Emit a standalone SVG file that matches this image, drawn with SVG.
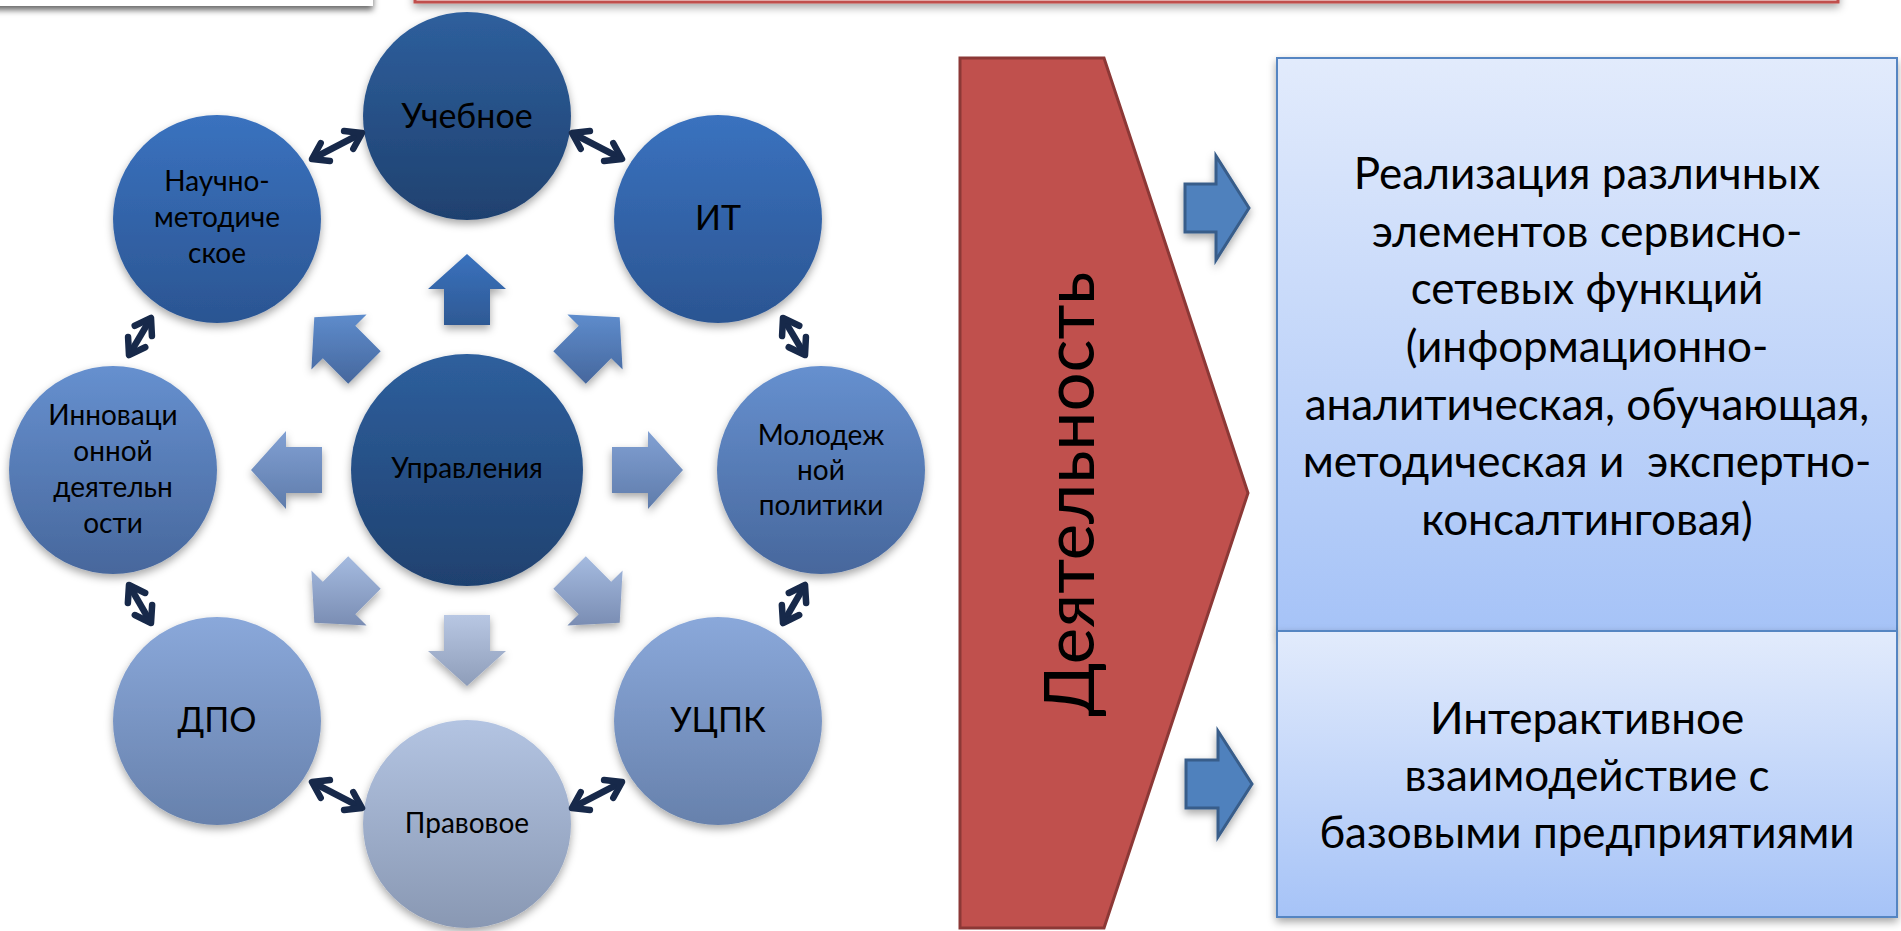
<svg xmlns="http://www.w3.org/2000/svg" width="1901" height="931" viewBox="0 0 1901 931">
<style>
.t{font-family:Lato,"Liberation Sans",sans-serif;fill:#000;text-anchor:middle}
.s{font-size:28px}
.b{font-size:34px}
.rt{font-size:44px}
.dh{stroke:#17294A;stroke-width:6.5;fill:none;marker-start:url(#ah);marker-end:url(#ah)}
.box{stroke:#5585C2;stroke-width:2;fill:url(#bx)}
.ba{fill:#4F81BD;stroke:#385D8A;stroke-width:3}
</style>
<defs>
<filter id="sh" x="-20%" y="-20%" width="140%" height="150%">
<feDropShadow dx="0" dy="4" stdDeviation="4" flood-color="#000" flood-opacity="0.35"/>
</filter>
<filter id="sh2" x="-5%" y="-50%" width="110%" height="300%">
<feDropShadow dx="0" dy="4" stdDeviation="3" flood-color="#000" flood-opacity="0.6"/>
</filter>
<linearGradient id="g1" x1="0" y1="0" x2="0" y2="1"><stop offset="0" stop-color="#2E5F9D"/><stop offset="1" stop-color="#1F416F"/></linearGradient>
<linearGradient id="g2" x1="0" y1="0" x2="0" y2="1"><stop offset="0" stop-color="#3A72BF"/><stop offset="1" stop-color="#2B5592"/></linearGradient>
<linearGradient id="g3" x1="0" y1="0" x2="0" y2="1"><stop offset="0" stop-color="#6690CF"/><stop offset="1" stop-color="#47679C"/></linearGradient>
<linearGradient id="g4" x1="0" y1="0" x2="0" y2="1"><stop offset="0" stop-color="#8AA8DA"/><stop offset="1" stop-color="#6781AC"/></linearGradient>
<linearGradient id="g5" x1="0" y1="0" x2="0" y2="1"><stop offset="0" stop-color="#B3C4E2"/><stop offset="1" stop-color="#8998B3"/></linearGradient>
<linearGradient id="a0" x1="0" y1="0" x2="0" y2="1"><stop offset="0" stop-color="#3A72BE"/><stop offset="1" stop-color="#2E5994"/></linearGradient>
<linearGradient id="a1" x1="0" y1="0" x2="0" y2="1"><stop offset="0" stop-color="#5E8CCC"/><stop offset="1" stop-color="#46679D"/></linearGradient>
<linearGradient id="a2" x1="0" y1="0" x2="0" y2="1"><stop offset="0" stop-color="#81A0D3"/><stop offset="1" stop-color="#5F7CAB"/></linearGradient>
<linearGradient id="a3" x1="0" y1="0" x2="0" y2="1"><stop offset="0" stop-color="#A5BBE0"/><stop offset="1" stop-color="#7A8DB3"/></linearGradient>
<linearGradient id="a4" x1="0" y1="0" x2="0" y2="1"><stop offset="0" stop-color="#B8C7E3"/><stop offset="1" stop-color="#8E9DB9"/></linearGradient>
<linearGradient id="bx" x1="0" y1="0" x2="0" y2="1"><stop offset="0" stop-color="#E2EBFC"/><stop offset="1" stop-color="#A6C3F7"/></linearGradient>
<marker id="ah" viewBox="-18 -14 22 28" refX="0" refY="0" markerWidth="22" markerHeight="28" markerUnits="userSpaceOnUse" orient="auto-start-reverse" overflow="visible">
<path d="M-15,-10 L0,0 L-15,10" fill="none" stroke="#17294A" stroke-width="6.5" stroke-linecap="round" stroke-linejoin="round"/>
</marker>
</defs>
<rect width="1901" height="931" fill="#fff"/>

<!-- top partial shapes -->
<rect id="topLeftBox" x="-20" y="-60" width="393" height="66" fill="#fff" filter="url(#sh2)"/>
<rect id="topRedBox" x="415" y="-60" width="1423" height="62" fill="#fff" stroke="#C0504D" stroke-width="3" filter="url(#sh)"/>

<!-- radial block arrows -->
<g id="blockArrows" filter="url(#sh)">
<polygon points="467,254 506,289 490,289 490,325 444,325 444,289 428,289" fill="url(#a0)"/>
<polygon points="619.7,317.3 622.6,369.6 611.2,358.3 585.8,383.7 553.3,351.2 578.7,325.8 567.4,314.4" fill="url(#a1)"/>
<polygon points="314.3,317.3 366.6,314.4 355.3,325.8 380.7,351.2 348.2,383.7 322.8,358.3 311.4,369.6" fill="url(#a1)"/>
<polygon points="683,470 648,509 648,493 612,493 612,447 648,447 648,431" fill="url(#a2)"/>
<polygon points="251,470 286,431 286,447 322,447 322,493 286,493 286,509" fill="url(#a2)"/>
<polygon points="619.7,622.7 567.4,625.6 578.7,614.2 553.3,588.8 585.8,556.3 611.2,581.7 622.6,570.4" fill="url(#a3)"/>
<polygon points="314.3,622.7 311.4,570.4 322.8,581.7 348.2,556.3 380.7,588.8 355.3,614.2 366.6,625.6" fill="url(#a3)"/>
<polygon points="467,686 428,651 444,651 444,615 490,615 490,651 506,651" fill="url(#a4)"/>
</g>

<!-- circle nodes -->
<g id="node-upravleniya">
<circle cx="467" cy="470" r="116" fill="url(#g1)" filter="url(#sh)"/>
<text class="t s" x="467" y="478">Управления</text>
</g>
<g id="node-uchebnoe">
<circle cx="467" cy="116" r="104" fill="url(#g1)" filter="url(#sh)"/>
<text class="t b" x="467" y="128">Учебное</text>
</g>
<g id="node-it">
<circle cx="718" cy="219" r="104" fill="url(#g2)" filter="url(#sh)"/>
<text class="t b" x="718" y="230">ИТ</text>
</g>
<g id="node-nauchno">
<circle cx="217" cy="219" r="104" fill="url(#g2)" filter="url(#sh)"/>
<text class="t s" x="217" y="191">Научно-</text>
<text class="t s" x="217" y="227">методиче</text>
<text class="t s" x="217" y="263">ское</text>
</g>
<g id="node-molodezh">
<circle cx="821" cy="470" r="104" fill="url(#g3)" filter="url(#sh)"/>
<text class="t s" x="821" y="445">Молодеж</text>
<text class="t s" x="821" y="480">ной</text>
<text class="t s" x="821" y="515">политики</text>
</g>
<g id="node-innovac">
<circle cx="113" cy="470" r="104" fill="url(#g3)" filter="url(#sh)"/>
<text class="t s" x="113" y="425">Инноваци</text>
<text class="t s" x="113" y="461">онной</text>
<text class="t s" x="113" y="497">деятельн</text>
<text class="t s" x="113" y="533">ости</text>
</g>
<g id="node-dpo">
<circle cx="217" cy="721" r="104" fill="url(#g4)" filter="url(#sh)"/>
<text class="t b" x="217" y="732">ДПО</text>
</g>
<g id="node-ucpk">
<circle cx="718" cy="721" r="104" fill="url(#g4)" filter="url(#sh)"/>
<text class="t b" x="718" y="732">УЦПК</text>
</g>
<g id="node-pravovoe">
<circle cx="467" cy="824" r="104" fill="url(#g5)" filter="url(#sh)"/>
<text class="t s" x="467" y="833">Правовое</text>
</g>

<!-- double arrows between ring nodes -->
<g id="connectors">
<line class="dh" x1="572" y1="133" x2="622" y2="159"/>
<line class="dh" x1="783" y1="318" x2="805" y2="355"/>
<line class="dh" x1="805" y1="585" x2="783" y2="623"/>
<line class="dh" x1="622" y1="782" x2="572" y2="808"/>
<line class="dh" x1="312" y1="782" x2="362" y2="808"/>
<line class="dh" x1="129" y1="585" x2="151" y2="623"/>
<line class="dh" x1="151" y1="318" x2="129" y2="355"/>
<line class="dh" x1="362" y1="133" x2="312" y2="159"/>
</g>

<!-- right part -->
<g id="node-deyatelnost">
<polygon points="960,58 1104,58 1248,493 1104,928 960,928" fill="#C0504D" stroke="#8C3836" stroke-width="3"/>
<text class="t" style="font-size:69px" transform="translate(1094,494) rotate(-90)">Деятельность</text>
</g>
<g id="arrow-top">
<path class="ba" d="M1185,184 H1216 V156 L1249,208 L1216,260 V232 H1185 Z" filter="url(#sh)"/>
</g>
<g id="arrow-bottom">
<path class="ba" d="M1186,760 H1218 V731 L1252,784 L1218,837 V808 H1186 Z" filter="url(#sh)"/>
</g>
<g id="node-realizaciya">
<rect class="box" x="1277" y="58" width="620" height="573" filter="url(#sh)"/>
<text class="t rt" x="1587" y="189">Реализация различных</text>
<text class="t rt" x="1587" y="247">элементов сервисно-</text>
<text class="t rt" x="1587" y="304">сетевых функций</text>
<text class="t rt" x="1587" y="362">(информационно-</text>
<text class="t rt" x="1587" y="420">аналитическая, обучающая,</text>
<text class="t rt" x="1587" y="477" xml:space="preserve">методическая и  экспертно-</text>
<text class="t rt" x="1587" y="535">консалтинговая)</text>
</g>
<g id="node-interaktiv">
<rect class="box" x="1277" y="631" width="620" height="286" filter="url(#sh)"/>
<text class="t rt" x="1587" y="734">Интерактивное</text>
<text class="t rt" x="1587" y="791">взаимодействие с</text>
<text class="t rt" x="1587" y="848">базовыми предприятиями</text>
</g>
</svg>
